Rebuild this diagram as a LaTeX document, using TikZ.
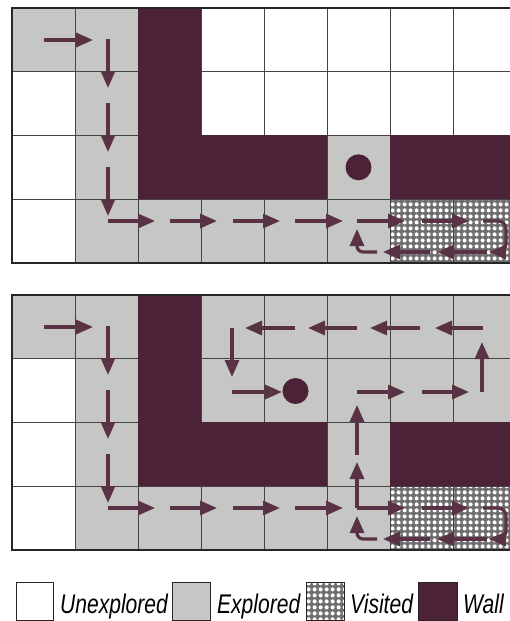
\documentclass[tikz,border=0pt]{standalone}
\usepackage{fontspec}
\newfontfamily\legfont{Liberation Sans}
\usetikzlibrary{arrows.meta,patterns}
\definecolor{wallc}{HTML}{4C2336}
\definecolor{arrc}{HTML}{5A3246}
\definecolor{expc}{HTML}{C6C6C4}
\definecolor{gridc}{HTML}{444444}
\definecolor{visbg}{HTML}{6E6E6E}
\pgfdeclarepatternformonly{visdots}{\pgfqpoint{0pt}{0pt}}{\pgfqpoint{6pt}{6pt}}{\pgfqpoint{6pt}{6pt}}{\pgfpathcircle{\pgfqpoint{3pt}{3pt}}{2.35pt}\pgfusepath{fill}}
\newcommand\cellrect[2]{({12+63*#1},{63.7*#2}) rectangle ({75+63*#1},{63.7*#2+63.7})}
\newcommand\visitfill[1]{\fill[visbg] #1; \fill[pattern=visdots,pattern color=white] #1;}
\newcommand\gridlines{%
  \foreach \k in {0,...,7} \draw[gridline] ({12+63*\k},0) -- ({12+63*\k},254.8);
  \foreach \r in {0,...,4} \draw[gridline] (12,{63.7*\r}) -- (516,{63.7*\r});}
\newcommand\commonarrows{%
  \draw[arr] (44,32) -- (93,32);
  \draw[arr] (108,31) -- (108,80);
  \draw[arr] (108,95) -- (108,144);
  \draw[arr] (108,159) -- (108,208);
  \draw[arr] (108,213) -- (155,213);
  \draw[arr] (170,213) -- (217,213);
  \draw[arr] (233,213) -- (280,213);
  \draw[arr] (295,213) -- (343,213);
  \draw[arr] (357,213) -- (405,213);
  \draw[arr] (422,213) -- (469,213);
  \draw[arr,rounded corners=8pt] (483,213) -- (506,213) -- (506,244) -- (489,244);
  \draw[arr] (487,244) -- (437,244);
  \draw[arr] (430,244) -- (383,244);
  \draw[arr,rounded corners=6pt] (377,244) -- (357,244) -- (357,221);}
\begin{document}
\begin{tikzpicture}[x=1pt,y=-1pt,
  gridline/.style={draw=gridc,line width=0.9pt},
  border/.style={draw=black!85,line width=1.4pt},
  arr/.style={draw=arrc,line width=3.2pt,-{Triangle[length=17pt,width=14pt]}},
  dotc/.style={fill=wallc},
  legbox/.style={draw=black!85,line width=0.9pt},
  legtext/.style={font=\legfont\itshape\fontsize{27}{27}\selectfont,anchor=base west,inner sep=0pt,xscale=0.78}]
\useasboundingbox (0,0) rectangle (510,621);
\fill[white] (0,0) rectangle (510,621);
\clip (0,0) rectangle (510,621);
% ---------- top grid ----------
\begin{scope}[shift={(0,8)}]
  \fill[expc] \cellrect{0}{0}; \fill[expc] \cellrect{1}{0};
  \fill[expc] (75,63.7) rectangle (138,254.8);
  \fill[expc] (138,191.1) rectangle (390,254.8);
  \fill[expc] \cellrect{5}{2};
  \visitfill{(390,191.1) rectangle (516,254.8)}
  \gridlines
  \fill[wallc] (138,0) rectangle (201,191.1);
  \fill[wallc] (201,127.4) rectangle (327,191.1);
  \fill[wallc] (390,127.4) rectangle (516,191.1);
  \draw[border] (516,0) -- (12,0) -- (12,254.8) -- (516,254.8);
  \commonarrows
  \fill[dotc] (358.5,159.3) circle (13);
\end{scope}
% ---------- bottom grid ----------
\begin{scope}[shift={(0,295)}]
  \fill[expc] (12,0) rectangle (516,63.7);
  \fill[expc] (75,63.7) rectangle (138,254.8);
  \fill[expc] (201,63.7) rectangle (516,127.4);
  \fill[expc] (138,191.1) rectangle (390,254.8);
  \fill[expc] \cellrect{5}{2};
  \visitfill{(390,191.1) rectangle (516,254.8)}
  \gridlines
  \fill[wallc] (138,0) rectangle (201,191.1);
  \fill[wallc] (201,127.4) rectangle (327,191.1);
  \fill[wallc] (390,127.4) rectangle (516,191.1);
  \draw[border] (516,0) -- (12,0) -- (12,254.8) -- (516,254.8);
  \commonarrows
  \draw[arr] (357,213) -- (357,167);
  \draw[arr] (357,160) -- (357,110);
  \draw[arr] (357,97) -- (405,97);
  \draw[arr] (422,97) -- (469,97);
  \draw[arr] (482,97) -- (482,47);
  \draw[arr] (483,33) -- (435,33);
  \draw[arr] (420,33) -- (370,33);
  \draw[arr] (357,33) -- (308,33);
  \draw[arr] (295,33) -- (245,33);
  \draw[arr] (232,33) -- (232,82);
  \draw[arr] (232,97) -- (282,97);
  \fill[dotc] (295.5,96) circle (13);
\end{scope}
% ---------- legend ----------
\draw[legbox,fill=white] (16,582) rectangle (53,620);
\node[legtext] (lu) at (60,613) {Unexplored};
\draw[legbox,fill=expc] (172,582) rectangle (210,620);
\node[legtext] (le) at (217,613) {Explored};
\visitfill{(306,582) rectangle (344,620)}
\draw[legbox] (306,582) rectangle (344,620);
\node[legtext] (lv) at (350,613) {Visited};
\draw[legbox,fill=wallc] (418,582) rectangle (457,620);
\node[legtext] (lw) at (463,613) {Wall};
\end{tikzpicture}
\end{document}
